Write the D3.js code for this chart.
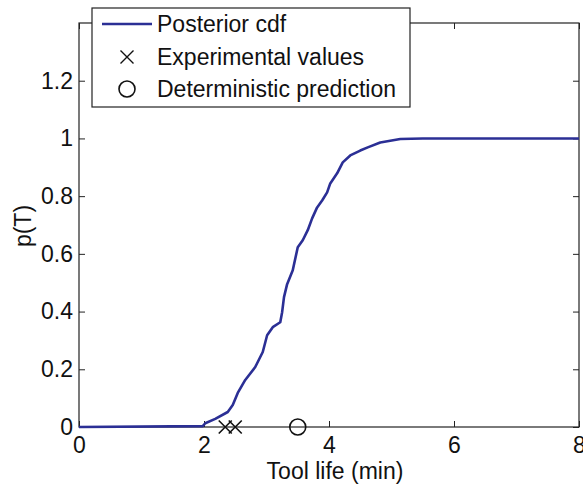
<!DOCTYPE html>
<html>
<head>
<meta charset="utf-8">
<script src="https://cdn.jsdelivr.net/npm/d3@7"></script>
<style>
  html, body { margin: 0; padding: 0; background: #fff; }
  svg { display: block; font-family: "Liberation Sans", Arial, sans-serif; }
</style>
</head>
<body>
<svg id="chart" width="583" height="487"></svg>
<script>
// ---- data ----
const cdfX = [0, 1.98, 2.02, 2.18, 2.38, 2.46, 2.54, 2.66, 2.82, 2.94, 3.01, 3.10, 3.22, 3.25, 3.28, 3.33, 3.42, 3.50, 3.58, 3.66, 3.73, 3.81, 3.89, 3.97, 4.02, 4.13, 4.22, 4.34, 4.50, 4.62, 4.82, 5.14, 5.5, 8];
const cdfP = [0, 0.003, 0.013, 0.028, 0.052, 0.076, 0.118, 0.163, 0.208, 0.260, 0.318, 0.346, 0.363, 0.398, 0.450, 0.495, 0.543, 0.623, 0.647, 0.682, 0.723, 0.761, 0.785, 0.813, 0.844, 0.879, 0.917, 0.941, 0.958, 0.969, 0.986, 0.998, 1.0, 1.0];
const experimentalValues = [2.34, 2.50];
const deterministicPrediction = [3.5];
const xTicks = [0, 2, 4, 6, 8];
const yTicks = [0, 0.2, 0.4, 0.6, 0.8, 1, 1.2];
const legendLabels = ["Posterior cdf", "Experimental values", "Deterministic prediction"];

// ---- layout ----
const svg = d3.select("#chart");
const L = 79, R = 579, T = 23, B = 427;
const x = d3.scaleLinear().domain([0, 8]).range([L, R]);
const y = d3.scaleLinear().domain([0, 1.4]).range([B, T]);
const axisColor = "#222";
const lineColor = "#2b2f95";
const fs = 23;

// frame
svg.append("rect").attr("x", L).attr("y", T).attr("width", R - L).attr("height", B - T)
  .attr("fill", "none").attr("stroke", axisColor).attr("stroke-width", 1.2);

// axes with inward ticks
const xAxis = d3.axisBottom(x).tickValues(xTicks).tickSize(-6).tickPadding(10).tickFormat(d3.format("d"));
const gx = svg.append("g").attr("transform", `translate(0,${B})`).call(xAxis);
const yAxis = d3.axisLeft(y).tickValues(yTicks).tickSize(-6).tickPadding(6).tickFormat(d => d === 0 ? "0" : d3.format("~g")(d));
const gy = svg.append("g").attr("transform", `translate(${L},0)`).call(yAxis);
// mirrored ticks
const gxt = svg.append("g").attr("transform", `translate(0,${T})`).call(d3.axisTop(x).tickValues(xTicks).tickSize(-6).tickFormat(""));
const gyr = svg.append("g").attr("transform", `translate(${R},0)`).call(d3.axisRight(y).tickValues(yTicks).tickSize(-6).tickFormat(""));
[gx, gy, gxt, gyr].forEach(g => {
  g.select(".domain").remove();
  g.selectAll("line").attr("stroke", axisColor).attr("stroke-width", 1);
  g.selectAll("text").attr("fill", "#111").style("font-size", fs + "px");
});
gx.selectAll("text").attr("dy", "0.71em");

// axis labels
svg.append("text").attr("x", 335).attr("y", 479).attr("text-anchor", "middle")
  .style("font-size", fs + "px").attr("fill", "#111").text("Tool life (min)");
svg.append("text").attr("transform", `translate(31,226) rotate(-90)`).attr("text-anchor", "middle")
  .style("font-size", fs + "px").attr("fill", "#111").text("p(T)");

// cdf line
const line = d3.line().x((d, i) => x(cdfX[i])).y((d, i) => y(cdfP[i]));
svg.append("path").datum(cdfP).attr("d", line).attr("fill", "none")
  .attr("stroke", lineColor).attr("stroke-width", 2.6).attr("stroke-linejoin", "round");

// experimental markers (x)
const ms = 6.5;
svg.append("g").selectAll("path").data(experimentalValues).join("path")
  .attr("d", d => { const cx = x(d), cy = y(0); return `M${cx - ms},${cy - ms}L${cx + ms},${cy + ms}M${cx - ms},${cy + ms}L${cx + ms},${cy - ms}`; })
  .attr("stroke", "#111").attr("stroke-width", 1.6).attr("fill", "none");
// deterministic prediction (o)
svg.append("g").selectAll("circle").data(deterministicPrediction).join("circle")
  .attr("cx", d => x(d)).attr("cy", y(0)).attr("r", 8)
  .attr("stroke", "#111").attr("stroke-width", 1.6).attr("fill", "none");

// legend
const lg = svg.append("g");
lg.append("rect").attr("x", 92).attr("y", 8).attr("width", 318).attr("height", 99)
  .attr("fill", "#fff").attr("stroke", axisColor).attr("stroke-width", 1.2);
const rowY = [24, 57, 89];
lg.append("line").attr("x1", 102).attr("x2", 152).attr("y1", rowY[0]).attr("y2", rowY[0])
  .attr("stroke", lineColor).attr("stroke-width", 2.6);
{
  const cx = 127, cy = rowY[1];
  lg.append("path").attr("d", `M${cx - ms},${cy - ms}L${cx + ms},${cy + ms}M${cx - ms},${cy + ms}L${cx + ms},${cy - ms}`)
    .attr("stroke", "#111").attr("stroke-width", 1.4);
}
lg.append("circle").attr("cx", 127).attr("cy", rowY[2]).attr("r", 8).attr("fill", "none")
  .attr("stroke", "#111").attr("stroke-width", 1.6);
lg.selectAll("text.lbl").data(legendLabels).join("text").attr("class", "lbl")
  .attr("x", 157).attr("y", (d, i) => rowY[i]).attr("dy", "0.35em")
  .style("font-size", fs + "px").attr("fill", "#111").text(d => d);
</script>
</body>
</html>
